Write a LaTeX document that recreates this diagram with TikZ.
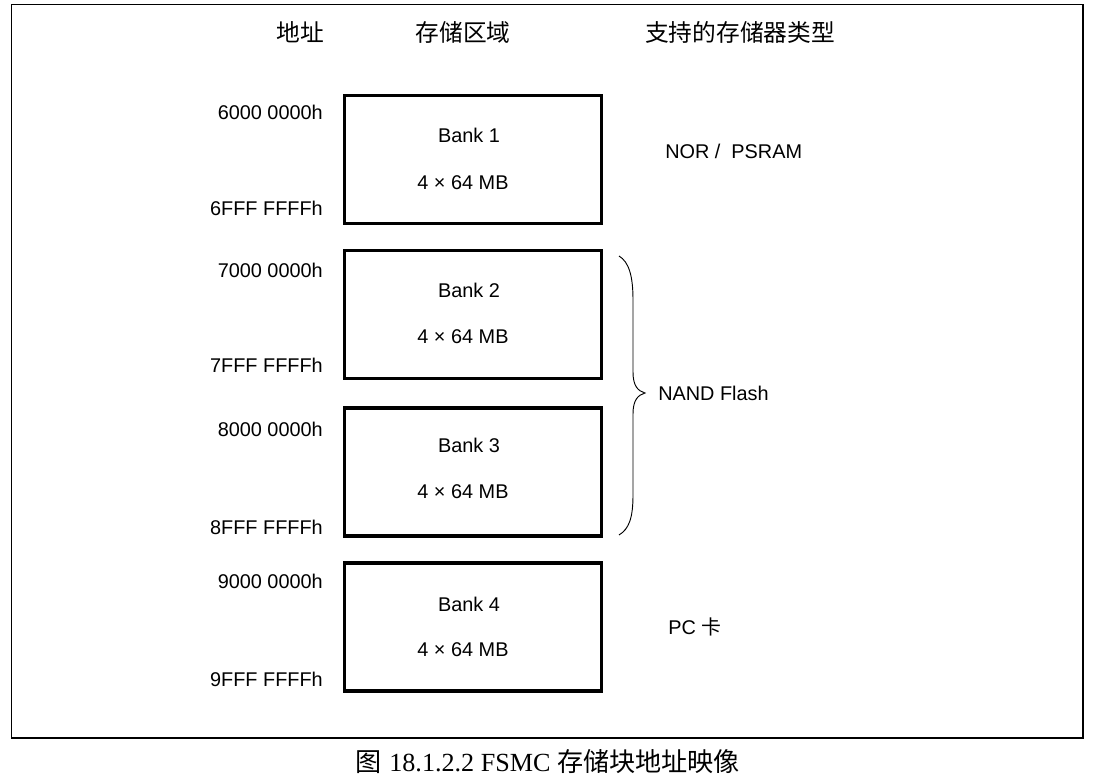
\documentclass[tikz,border=0pt]{standalone}
\usepackage{fontspec}
\setmainfont{Liberation Sans}
\newfontfamily\cjk{Noto Sans CJK SC}
\newfontfamily\capserif{Liberation Serif}
\begin{document}
\begin{tikzpicture}[x=0.75pt,y=-0.75pt,
  bank/.style={draw,line width=2.3pt,minimum width=257*0.75pt,minimum height=128*0.75pt,inner sep=0pt},
  lbl/.style={font=\fontsize{14.9}{16}\selectfont,inner sep=0pt},
  addr/.style={lbl,anchor=east},
  head/.style={font=\cjk\fontsize{17.8}{19}\selectfont,inner sep=0pt}]
\useasboundingbox (0,0) rectangle (1101,777);
\draw[line width=1.1pt] (11.5,4.5) rectangle (1083,738);
% headers
\node[head] (h1) at (300,32) {地址};
\node[head] (h2) at (463,32) {存储区域};
\node[head] (h3) at (740,32) {支持的存储器类型};
% banks
\node[bank] (b1) at (473,159.5) {};
\node[bank] (b2) at (473,314.5) {};
\node[bank] (b3) at (473,472) {};
\node[bank] (b4) at (473,627) {};
\foreach \n/\y/\z [count=\i] in {1/135/183,2/290/337,3/445/492,4/604/650}{
  \node[lbl] (bk\i) at (469,\y) {Bank \n};
  \node[lbl] (sz\i) at (463,\z) {4 × 64 MB};
}
% addresses
\node[addr] (a1) at (323,112) {6000 0000h};
\node[addr] (a2) at (323,208) {6FFF FFFFh};
\node[addr] (a3) at (323,270) {7000 0000h};
\node[addr] (a4) at (323,365) {7FFF FFFFh};
\node[addr] (a5) at (323,429) {8000 0000h};
\node[addr] (a6) at (323,527) {8FFF FFFFh};
\node[addr] (a7) at (323,581) {9000 0000h};
\node[addr] (a8) at (323,679) {9FFF FFFFh};
% types
\node[lbl,anchor=west] (t1) at (665,151) {NOR /\ \ PSRAM};
\node[lbl,anchor=west] (t2) at (658,393) {NAND Flash};
\node[lbl,anchor=west] (t3) at (668,627) {PC {\cjk 卡}};
% brace
\coordinate (bt) at (619,256);
\coordinate (bm) at (645,393);
\coordinate (bb) at (619,535);
\draw[line width=0.7pt] (bt) .. controls (629,262) and (633,276) .. (633,300) -- (633,372)
  .. controls (633,386) and (638,391) .. (bm)
  .. controls (638,395) and (633,400) .. (633,414) -- (633,495)
  .. controls (633,518) and (629,529) .. (bb);
% caption
\node[inner sep=0pt,font=\fontsize{19.6}{21}\selectfont] (cap) at (548,762)
  {{\cjk 图} \capserif 18.1.2.2 FSMC {\cjk 存储块地址映像}};
\end{tikzpicture}
\end{document}
